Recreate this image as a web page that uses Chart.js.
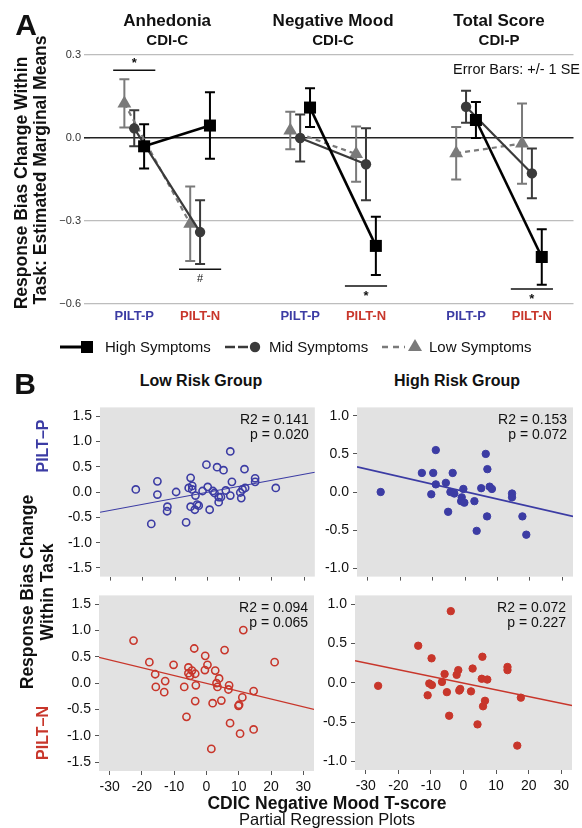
<!DOCTYPE html>
<html>
<head>
<meta charset="utf-8">
<script src="https://cdn.jsdelivr.net/npm/chart.js@4.4.1/dist/chart.umd.min.js"></script>
<style>
body { margin: 0; background: #fff; font-family: 'Liberation Sans', Arial, sans-serif; }
#wrap { position: relative; width: 582px; height: 828px; overflow: hidden; }
canvas { position: absolute; }
.t { position: absolute; white-space: nowrap; line-height: 1; color: #111; transform: translate(-50%, -50%); }
.v { transform: translate(-50%, -50%) rotate(-90deg); }
</style>
</head>
<body>
<div id="wrap">
  <canvas id="chartA" width="582" height="360" style="left:0;top:0"></canvas>
  <canvas id="lowP" width="280" height="194" style="left:40px;top:395px"></canvas>
  <canvas id="highP" width="262" height="194" style="left:320px;top:395px"></canvas>
  <canvas id="lowN" width="280" height="215" style="left:40px;top:583px"></canvas>
  <canvas id="highN" width="262" height="215" style="left:320px;top:583px"></canvas>
</div>
<script>
// ---- panel A: estimated marginal means ----
const panelNames = ['Anhedonia', 'Negative Mood', 'Total Score'];
const panelScales = ['CDI-C', 'CDI-C', 'CDI-P'];
const conditions = ['PILT-P', 'PILT-N'];
const seriesNames = ['High Symptoms', 'Mid Symptoms', 'Low Symptoms'];
// [panel][condition]
const highMean = [[-0.03, 0.045], [0.11, -0.39], [0.065, -0.43]];
const highSE = [[0.08, 0.12], [0.07, 0.105], [0.065, 0.10]];
const midMean = [[0.035, -0.34], [0.0, -0.095], [0.113, -0.128]];
const midSE = [[0.065, 0.115], [0.085, 0.13], [0.058, 0.09]];
const lowMean = [[0.125, -0.31], [0.027, -0.058], [-0.055, -0.02]];
const lowSE = [[0.087, 0.135], [0.068, 0.10], [0.095, 0.145]];
const yTicksA = [-0.6, -0.3, 0, 0.3];
// significance marks
const sigPanel = [0, 0, 1, 2];
const sigCond = [0, 1, 1, 1];
const sigLevel = [0.245, -0.474, -0.535, -0.546];
const sigSymbol = ['*', '#', '*', '*'];
const sigAbove = [true, false, false, false];

// ---- panel B: partial regression plots [x, y] ----
const lowRiskPiltP = [[-22.2,0.05],[-15.5,0.21],[-15.5,-0.05],[-17.4,-0.63],[-12.4,-0.29],[-12.5,-0.38],[-9.7,0.0],
  [-6.6,-0.60],[-5.2,0.28],[-5.8,0.08],[-4.7,0.12],[-4.7,0.05],[-5.2,-0.29],[-3.9,-0.35],[-3.2,-0.25],[-3.7,-0.07],
  [-2.7,-0.27],[-1.5,0.02],[-0.3,0.54],[0.1,0.10],[0.7,-0.35],[1.7,0.02],[2.2,-0.02],[3.0,0.49],[3.5,-0.10],
  [3.5,-0.20],[4.2,-0.10],[5.0,0.43],[5.7,0.03],[7.1,0.80],[7.6,0.20],[7.1,-0.07],[10.2,-0.01],[10.5,-0.12],
  [10.9,0.05],[11.5,0.45],[11.7,0.08],[14.8,0.27],[14.8,0.20],[21.2,0.08]];
const highRiskPiltP = [[-26,0.0],[-13.3,0.25],[-9.8,0.25],[-9.0,0.55],[-9.0,0.10],[-10.4,-0.03],[-5.9,0.12],
  [-3.8,0.25],[-4.5,0.0],[-3.3,-0.02],[-5.2,-0.26],[-0.5,0.04],[-1.0,-0.07],[-1.2,-0.12],[-0.2,-0.14],[2.9,-0.12],
  [3.6,-0.51],[5.0,0.05],[6.4,0.50],[6.9,0.30],[7.6,0.07],[8.3,0.04],[6.8,-0.32],[14.5,-0.02],[14.5,-0.07],
  [17.7,-0.32],[18.9,-0.56]];
const lowRiskPiltN = [[-22.6,0.81],[-17.7,0.40],[-15.9,0.17],[-15.7,-0.07],[-12.8,0.04],[-13.1,-0.17],[-10.2,0.35],
  [-6.9,-0.07],[-6.2,-0.64],[-5.6,0.30],[-5.6,0.19],[-5.1,0.14],[-4.5,0.24],[-3.8,0.66],[-3.5,0.18],[-3.3,-0.04],
  [-3.5,-0.34],[-0.4,0.52],[-0.5,0.25],[0.3,0.35],[1.9,-0.38],[1.5,-1.25],[2.7,0.24],[3.1,0.0],[3.4,-0.07],
  [3.9,0.09],[4.6,-0.33],[5.6,0.63],[6.8,-0.12],[7.0,-0.04],[7.3,-0.76],[9.9,-0.43],[10.1,-0.41],[10.4,-0.96],
  [11.1,-0.27],[11.4,1.01],[14.6,-0.15],[14.6,-0.88],[21.1,0.40]];
const highRiskPiltN = [[-26.2,-0.04],[-13.9,0.47],[-9.8,0.31],[-11.0,-0.16],[-10.5,-0.01],[-9.7,-0.03],[-6.6,0.01],
  [-5.8,0.11],[-5.1,-0.12],[-4.4,-0.42],[-3.9,0.91],[-2.1,0.10],[-1.6,0.16],[-1.3,-0.10],[-1.0,-0.08],[2.3,-0.11],
  [2.8,0.18],[4.3,-0.53],[5.6,0.05],[5.8,0.33],[6.0,-0.30],[6.6,-0.23],[7.3,0.04],[13.5,0.20],[13.5,0.16],
  [16.5,-0.80],[17.6,-0.19]];
// fitted line end points
const lineLowP = [[-33.3, -0.40], [33.3, 0.39]];
const lineHighP = [[-33.3, 0.33], [33.3, -0.32]];
const lineLowN = [[-33.3, 0.49], [33.3, -0.50]];
const lineHighN = [[-33.3, 0.28], [33.3, -0.29]];
const statsR2 = ['0.141', '0.153', '0.094', '0.072'];
const statsP = ['0.020', '0.072', '0.065', '0.227'];
const xTicksB = [-30, -20, -10, 0, 10, 20, 30];
const yTicksLow = [-1.5, -1.0, -0.5, 0, 0.5, 1.0, 1.5];
const yTicksHigh = [-1.0, -0.5, 0, 0.5, 1.0];

const FONT = "'Liberation Sans', Arial, sans-serif";
const BLUE = '#3c3ca4';
const RED = '#c8362b';

// layout of panel A (x in category units)
const panelGap = 2.52;
const dodge = [0.15, 0, -0.15];
const means = [highMean, midMean, lowMean];
const ses = [highSE, midSE, lowSE];
const styles = [
  { color: '#000', width: 2.6, dash: [], point: 'rect', r: 8.5 },
  { color: '#3a3a3a', width: 2.2, dash: [], point: 'circle', r: 5.2 },
  { color: '#7a7a7a', width: 2.2, dash: [5, 4], point: 'triangle', r: 8 }
];

function marker(ctx, kind, x, y, color) {
  ctx.fillStyle = color;
  ctx.beginPath();
  if (kind === 'rect') ctx.rect(x - 6, y - 6, 12, 12);
  else if (kind === 'circle') ctx.arc(x, y, 5.2, 0, Math.PI * 2);
  else { ctx.moveTo(x, y - 8); ctx.lineTo(x + 7, y + 4); ctx.lineTo(x - 7, y + 4); ctx.closePath(); }
  ctx.fill();
}

const annotA = {
  id: 'annotA',
  beforeDatasetsDraw(chart) {
    const ctx = chart.ctx, xs = chart.scales.x, ys = chart.scales.y;
    ctx.save();
    for (let s = 2; s >= 0; s--) {
      ctx.strokeStyle = styles[s].color;
      ctx.lineWidth = 2;
      for (let p = 0; p < 3; p++) {
        for (let j = 0; j < 2; j++) {
          const x = xs.getPixelForValue(p * panelGap + j + dodge[s]);
          const yt = ys.getPixelForValue(means[s][p][j] + ses[s][p][j]);
          const yb = ys.getPixelForValue(means[s][p][j] - ses[s][p][j]);
          ctx.beginPath();
          ctx.moveTo(x, yt); ctx.lineTo(x, yb);
          ctx.moveTo(x - 5, yt); ctx.lineTo(x + 5, yt);
          ctx.moveTo(x - 5, yb); ctx.lineTo(x + 5, yb);
          ctx.stroke();
        }
      }
    }
    ctx.restore();
  },
  afterDraw(chart) {
    const ctx = chart.ctx, xs = chart.scales.x, ys = chart.scales.y;
    ctx.save();
    ctx.textAlign = 'center';
    ctx.textBaseline = 'middle';
    ctx.fillStyle = '#111';
    for (let p = 0; p < 3; p++) {
      const cx = xs.getPixelForValue(p * panelGap + 0.5);
      ctx.font = 'bold 17px ' + FONT;
      ctx.fillText(panelNames[p], cx, 21);
      ctx.font = 'bold 15px ' + FONT;
      ctx.fillText(panelScales[p], cx, 41);
      ctx.font = 'bold 13px ' + FONT;
      conditions.forEach((c, j) => {
        ctx.fillStyle = j === 0 ? BLUE : RED;
        ctx.fillText(c, xs.getPixelForValue(p * panelGap + j), 316);
      });
      ctx.fillStyle = '#111';
    }
    // significance brackets
    ctx.strokeStyle = '#111';
    ctx.lineWidth = 1.5;
    for (let k = 0; k < sigPanel.length; k++) {
      const c = sigPanel[k] * panelGap + sigCond[k];
      const y = ys.getPixelForValue(sigLevel[k]);
      ctx.beginPath();
      ctx.moveTo(xs.getPixelForValue(c - 0.32), y);
      ctx.lineTo(xs.getPixelForValue(c + 0.32), y);
      ctx.stroke();
      ctx.font = (sigSymbol[k] === '#' ? '11px ' : 'bold 13px ') + FONT;
      ctx.fillText(sigSymbol[k], xs.getPixelForValue(c), sigAbove[k] ? y - 7 : y + 10);
    }
    ctx.font = '14.5px ' + FONT;
    ctx.textAlign = 'right';
    ctx.fillText('Error Bars: +/- 1 SE', 580, 70);
    // legend
    const ly = 347;
    const legend = [[60, 90, 87, 105], [225, 252, 255, 269], [382, 405, 415, 429]];
    ctx.textAlign = 'left';
    ctx.font = '15px ' + FONT;
    legend.forEach((L, s) => {
      ctx.strokeStyle = styles[s].color;
      ctx.lineWidth = s === 0 ? 3 : 2.5;
      ctx.setLineDash(s === 0 ? [] : s === 1 ? [10, 3] : [6, 5]);
      ctx.beginPath(); ctx.moveTo(L[0], ly); ctx.lineTo(L[1], ly); ctx.stroke();
      ctx.setLineDash([]);
      marker(ctx, styles[s].point, L[2], ly, styles[s].color);
      ctx.fillStyle = '#111';
      ctx.fillText(seriesNames[s], L[3], ly + 1);
    });
    ctx.restore();
  }
};

const datasetsA = [];
for (let s = 0; s < 3; s++) {
  for (let p = 0; p < 3; p++) {
    datasetsA.push({
      label: seriesNames[s],
      data: conditions.map((c, j) => ({ x: p * panelGap + j + dodge[s], y: means[s][p][j] })),
      borderColor: styles[s].color,
      backgroundColor: styles[s].color,
      borderWidth: styles[s].width,
      borderDash: styles[s].dash,
      pointStyle: styles[s].point,
      pointRadius: styles[s].r,
      pointBorderWidth: 0,
      pointHoverRadius: styles[s].r,
      clip: false
    });
  }
}

new Chart(document.getElementById('chartA'), {
  type: 'line',
  data: { datasets: datasetsA },
  options: {
    responsive: false, animation: false, devicePixelRatio: 1,
    layout: { padding: { top: 55, bottom: 56, left: 0, right: 0 } },
    plugins: { legend: { display: false }, tooltip: { enabled: false } },
    scales: {
      x: { type: 'linear', display: false, min: -0.672, max: 6.672 },
      y: {
        min: -0.6, max: 0.3,
        afterFit: s => { s.width = 90; },
        afterBuildTicks: s => { s.ticks = yTicksA.map(v => ({ value: v })); },
        border: { display: false },
        grid: {
          color: c => (c.tick && Math.abs(c.tick.value) < 1e-9) ? '#222' : '#bdbdbd',
          lineWidth: c => (c.tick && Math.abs(c.tick.value) < 1e-9) ? 1.6 : 1.3,
          tickLength: 6
        },
        ticks: {
          font: { size: 11, family: FONT }, color: '#333', padding: 3,
          callback: v => Math.abs(v) < 1e-9 ? '0.0' : (v < 0 ? '\u2212' + Math.abs(v).toFixed(1) : v.toFixed(1))
        }
      }
    }
  },
  plugins: [annotA]
});

// ---- panel B charts ----
const bgPlugin = {
  id: 'bg',
  beforeDraw(chart) {
    const a = chart.chartArea, ctx = chart.ctx;
    ctx.save();
    ctx.fillStyle = '#e2e2e2';
    ctx.fillRect(a.left, a.top, a.right - a.left, a.bottom - a.top);
    ctx.restore();
  },
  afterDraw(chart) {
    const a = chart.chartArea, ctx = chart.ctx, o = chart.options.plugins.bg;
    ctx.save();
    ctx.fillStyle = '#111';
    ctx.font = '14px ' + FONT;
    ctx.textAlign = 'right';
    ctx.textBaseline = 'middle';
    ctx.fillText('R2 = ' + o.r2, a.right - 6, a.top + 13);
    ctx.fillText('p = ' + o.p, a.right - 6, a.top + 28);
    ctx.restore();
  }
};

function scatterB(id, pts, line, color, filled, lim, yTicks, showX, pad, yW, xH, k) {
  new Chart(document.getElementById(id), {
    type: 'scatter',
    data: {
      datasets: [
        {
          type: 'line', data: line.map(d => ({ x: d[0], y: d[1] })),
          borderColor: color, borderWidth: filled ? 1.6 : 1.2, pointRadius: 0, fill: false
        },
        {
          data: pts.map(d => ({ x: d[0], y: d[1] })),
          pointRadius: filled ? 3.7 : 3.6, pointBorderWidth: filled ? 1 : 1.6,
          borderColor: color, backgroundColor: filled ? color : 'rgba(0,0,0,0)',
          pointHoverRadius: 3.6
        }
      ]
    },
    options: {
      responsive: false, animation: false, devicePixelRatio: 1,
      layout: { padding: pad },
      plugins: { legend: { display: false }, tooltip: { enabled: false }, bg: { r2: statsR2[k], p: statsP[k] } },
      scales: {
        x: {
          type: 'linear', min: -33.3, max: 33.3,
          afterFit: s => { s.height = xH; },
          afterBuildTicks: s => { s.ticks = xTicksB.map(v => ({ value: v })); },
          border: { display: false },
          grid: { drawOnChartArea: false, tickLength: 4, color: '#555' },
          ticks: { display: showX, autoSkip: false, maxRotation: 0, padding: 4, font: { size: 14, family: FONT }, color: '#111' }
        },
        y: {
          min: -lim, max: lim,
          afterFit: s => { s.width = yW; },
          afterBuildTicks: s => { s.ticks = yTicks.map(v => ({ value: v })); },
          border: { display: false },
          grid: { drawOnChartArea: false, tickLength: 4, color: '#555' },
          ticks: { padding: 4, font: { size: 14, family: FONT }, color: '#111', callback: v => v.toFixed(1) }
        }
      }
    },
    plugins: [bgPlugin]
  });
}

scatterB('lowP', lowRiskPiltP, lineLowP, BLUE, false, 1.67, yTicksLow, false, { top: 7, right: 5, left: 0, bottom: 0 }, 60, 6, 0);
scatterB('highP', highRiskPiltP, lineHighP, BLUE, true, 1.11, yTicksHigh, false, { top: 8, right: 9, left: 0, bottom: 0 }, 37, 6, 1);
scatterB('lowN', lowRiskPiltN, lineLowN, RED, false, 1.67, yTicksLow, true, { top: 5, right: 6, left: 0, bottom: 0 }, 59, 27, 2);
scatterB('highN', highRiskPiltN, lineHighN, RED, true, 1.11, yTicksHigh, true, { top: 4, right: 10, left: 0, bottom: 0 }, 35, 28, 3);

// ---- static text ----
const wrap = document.getElementById('wrap');
function label(text, x, y, font, color, vertical) {
  const d = document.createElement('div');
  d.className = 't' + (vertical ? ' v' : '');
  d.textContent = text;
  d.style.left = x + 'px';
  d.style.top = y + 'px';
  d.style.font = font;
  if (color) d.style.color = color;
  wrap.appendChild(d);
}
label('A', 26, 25, 'bold 30px ' + FONT);
label('Response Bias Change Within', 21, 183, 'bold 17.5px ' + FONT, null, true);
label('Task: Estimated Marginal Means', 40, 170, 'bold 17.5px ' + FONT, null, true);
label('B', 25, 384, 'bold 30px ' + FONT);
label('Low Risk Group', 201, 381, 'bold 16px ' + FONT);
label('High Risk Group', 457, 381, 'bold 16px ' + FONT);
label('Response Bias Change', 27, 592, 'bold 17.5px ' + FONT, null, true);
label('Within Task', 47, 592, 'bold 17.5px ' + FONT, null, true);
label('PILT\u2013P', 43, 446, 'bold 16px ' + FONT, BLUE, true);
label('PILT\u2013N', 43, 733, 'bold 16px ' + FONT, RED, true);
label('CDIC Negative Mood T-score', 327, 803, 'bold 17.5px ' + FONT);
label('Partial Regression Plots', 327, 819, '16.5px ' + FONT);
</script>
</body>
</html>
